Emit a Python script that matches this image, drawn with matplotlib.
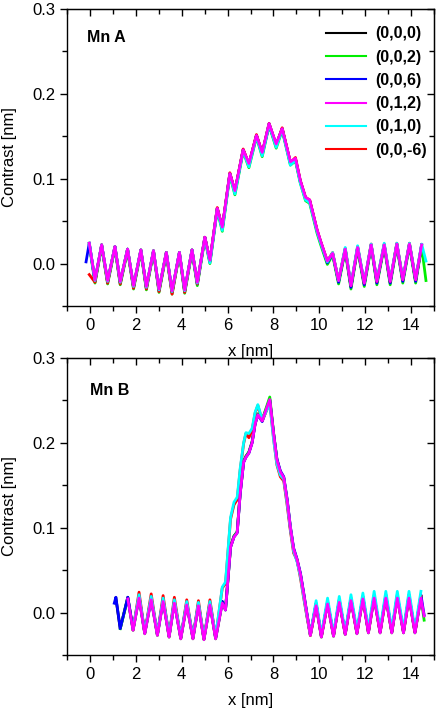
import numpy as np
import matplotlib
matplotlib.use('Agg')
import matplotlib.pyplot as plt
from matplotlib.ticker import MultipleLocator, FormatStrFormatter

plt.rcParams['font.family'] = ['Liberation Sans', 'DejaVu Sans']

nan = np.nan

labels = ['(0,0,0)', '(0,0,2)', '(0,0,6)', '(0,1,2)', '(0,1,0)', '(0,0,-6)']
colors = ['#000000', '#00ee00', '#0000ff', '#ff00ff', '#00ffff', '#ff0000']

# ---- Mn A ----
xa = [-0.17, -0.03, 0.22, 0.51, 0.77, 1.09, 1.32, 1.64, 1.90, 2.22,
      2.46, 2.77, 3.01, 3.33, 3.58, 3.90, 4.13, 4.45, 4.68, 5.01,
      5.23, 5.55, 5.77, 6.10, 6.32, 6.68, 6.93, 7.26, 7.51, 7.81,
      8.12, 8.38, 8.74, 8.96, 9.17, 9.40, 9.58, 9.90, 10.05, 10.35,
      10.58, 10.84, 11.13, 11.38, 11.67, 11.96, 12.26, 12.51, 12.83, 13.09,
      13.38, 13.64, 13.93, 14.20, 14.46, 14.65]

a_000 = [nan, 0.024, -0.020, 0.022, -0.021, 0.020, -0.022, 0.017, -0.027, 0.016,
         -0.028, 0.015, -0.031, 0.013, -0.033, 0.013, -0.032, 0.016, -0.023, 0.031,
         0.003, 0.065, 0.042, 0.106, 0.085, 0.134, 0.117, 0.151, 0.130, 0.165,
         0.140, 0.159, 0.119, 0.123, 0.097, 0.077, 0.074, 0.039, 0.026, 0.002,
         0.012, -0.021, 0.017, -0.027, 0.019, -0.024, 0.022, -0.022, 0.022, -0.022,
         0.023, -0.020, 0.023, -0.020, 0.021, nan]
a_002 = [nan, 0.022, -0.023, 0.020, -0.024, 0.018, -0.025, 0.015, -0.030, 0.014,
         -0.031, 0.013, -0.034, 0.011, -0.036, 0.011, -0.035, 0.014, -0.026, 0.029,
         0.000, 0.063, 0.038, 0.104, 0.081, 0.132, 0.113, 0.149, 0.126, 0.163,
         0.136, 0.157, 0.116, 0.121, 0.095, 0.074, 0.071, 0.036, 0.023, -0.001,
         0.010, -0.024, 0.015, -0.030, 0.017, -0.027, 0.020, -0.025, 0.020, -0.025,
         0.021, -0.023, 0.021, -0.023, 0.020, -0.020]
a_006 = [0.002, 0.024, -0.021, 0.022, -0.022, 0.020, -0.023, 0.017, -0.028, 0.016,
         -0.029, 0.015, -0.032, 0.013, -0.034, 0.013, -0.033, 0.016, -0.024, 0.031,
         0.002, 0.065, 0.041, 0.106, 0.084, 0.134, 0.116, 0.151, 0.129, 0.163,
         0.139, 0.159, 0.118, 0.123, 0.097, 0.077, 0.074, 0.039, 0.026, 0.001,
         0.012, -0.022, 0.017, -0.028, 0.019, -0.025, 0.022, -0.023, 0.022, -0.023,
         0.023, -0.021, 0.023, -0.021, 0.022, nan]
a_012 = [nan, 0.024, -0.019, 0.022, -0.020, 0.020, -0.021, 0.017, -0.026, 0.016,
         -0.027, 0.015, -0.030, 0.013, -0.032, 0.013, -0.031, 0.016, -0.022, 0.031,
         0.004, 0.065, 0.043, 0.106, 0.086, 0.134, 0.118, 0.151, 0.131, 0.165,
         0.141, 0.159, 0.120, 0.124, 0.098, 0.078, 0.075, 0.040, 0.027, 0.003,
         0.012, -0.020, 0.017, -0.026, 0.019, -0.023, 0.022, -0.021, 0.022, -0.021,
         0.023, -0.019, 0.023, -0.019, 0.022, nan]
a_010 = [nan, 0.024, -0.020, 0.022, -0.021, 0.020, -0.022, 0.017, -0.027, 0.016,
         -0.028, 0.015, -0.031, 0.013, -0.033, 0.013, -0.032, 0.016, -0.023, 0.030,
         0.001, 0.064, 0.039, 0.105, 0.082, 0.133, 0.114, 0.150, 0.127, 0.164,
         0.137, 0.158, 0.116, 0.122, 0.095, 0.075, 0.072, 0.038, 0.025, 0.002,
         0.013, -0.020, 0.019, -0.025, 0.021, -0.022, 0.023, -0.020, 0.024, -0.020,
         0.024, -0.018, 0.024, -0.018, 0.023, 0.003]
a_00m6 = [nan, -0.013, -0.022, 0.022, -0.023, 0.020, -0.024, 0.017, -0.029, 0.016,
          -0.030, 0.015, -0.033, 0.013, -0.036, 0.013, -0.034, 0.016, -0.024, 0.031,
          0.003, 0.066, 0.042, 0.107, 0.085, 0.135, 0.117, 0.152, 0.130, 0.165,
          0.139, 0.160, 0.119, 0.125, 0.098, 0.078, 0.075, 0.040, 0.027, 0.003,
          0.013, -0.020, 0.018, -0.026, 0.020, -0.023, 0.023, -0.021, 0.023, -0.021,
          0.024, -0.019, 0.024, -0.019, 0.022, nan]

# ---- Mn B ----
xb = [1.06, 1.13, 1.32, 1.65, 1.88, 2.14, 2.39, 2.67, 2.94, 3.19,
      3.45, 3.68, 3.96, 4.22, 4.49, 4.73, 4.97, 5.23, 5.48, 5.77,
      5.91, 6.13, 6.28, 6.42, 6.55, 6.70, 6.80, 6.93, 7.07, 7.20,
      7.32, 7.51, 7.84, 8.01, 8.15, 8.30, 8.45, 8.60, 8.74, 8.88,
      9.03, 9.18, 9.32, 9.46, 9.61, 9.86, 10.09, 10.36, 10.62, 10.87,
      11.13, 11.38, 11.64, 11.90, 12.14, 12.39, 12.65, 12.90, 13.16, 13.40,
      13.67, 13.91, 14.17, 14.43, 14.57]

b_000 = [nan, 0.017, -0.019, 0.018, -0.020, 0.019, -0.024, 0.017, -0.026, 0.015,
         -0.028, 0.013, -0.030, 0.011, -0.030, 0.010, -0.031, 0.011, -0.030, 0.013,
         0.004, 0.078, 0.090, 0.095, 0.141, 0.178, 0.184, 0.189, 0.201, 0.223,
         0.234, 0.227, 0.251, 0.210, 0.180, 0.165, 0.158, 0.131, 0.099, 0.074,
         0.061, 0.044, 0.021, -0.003, -0.026, 0.010, -0.028, 0.012, -0.027, 0.014,
         -0.025, 0.016, -0.024, 0.018, -0.023, 0.019, -0.023, 0.019, -0.023, 0.019,
         -0.023, 0.019, -0.023, 0.019, nan]
b_002 = [nan, nan, -0.019, 0.017, -0.021, 0.018, -0.025, 0.016, -0.027, 0.014,
         -0.029, 0.012, -0.031, 0.010, -0.031, 0.009, -0.032, 0.010, -0.031, 0.012,
         0.003, 0.077, 0.090, 0.095, 0.141, 0.178, 0.184, 0.189, 0.201, 0.223,
         0.234, 0.227, 0.254, 0.211, 0.181, 0.166, 0.159, 0.132, 0.100, 0.075,
         0.062, 0.045, 0.022, -0.002, -0.027, 0.009, -0.029, 0.011, -0.028, 0.013,
         -0.026, 0.015, -0.025, 0.017, -0.024, 0.018, -0.024, 0.018, -0.024, 0.018,
         -0.024, 0.018, -0.024, 0.018, -0.009]
b_006 = [0.011, 0.018, -0.019, 0.018, -0.020, 0.019, -0.024, 0.017, -0.026, 0.015,
         -0.028, 0.013, -0.030, 0.011, -0.030, 0.010, -0.031, 0.011, -0.030, 0.013,
         0.003, 0.077, 0.089, 0.094, 0.140, 0.177, 0.183, 0.188, 0.200, 0.222,
         0.233, 0.225, 0.250, 0.210, 0.181, 0.167, 0.160, 0.133, 0.101, 0.076,
         0.063, 0.046, 0.023, -0.001, -0.026, 0.011, -0.028, 0.013, -0.027, 0.015,
         -0.025, 0.017, -0.024, 0.019, -0.023, 0.020, -0.023, 0.021, -0.023, 0.021,
         -0.023, 0.021, -0.023, 0.021, -0.003]
b_012 = [nan, nan, nan, 0.016, -0.021, 0.017, -0.025, 0.015, -0.027, 0.013,
         -0.029, 0.011, -0.031, 0.009, -0.031, 0.008, -0.032, 0.009, -0.031, 0.011,
         0.003, 0.077, 0.089, 0.094, 0.140, 0.177, 0.183, 0.188, 0.200, 0.222,
         0.233, 0.226, 0.251, 0.210, 0.180, 0.166, 0.159, 0.132, 0.100, 0.075,
         0.062, 0.045, 0.022, -0.002, -0.027, 0.008, -0.029, 0.010, -0.028, 0.012,
         -0.026, 0.014, -0.025, 0.016, -0.024, 0.017, -0.024, 0.017, -0.024, 0.017,
         -0.024, 0.017, -0.024, 0.017, -0.004]
b_010 = [nan, nan, nan, nan, -0.019, 0.021, -0.023, 0.019, -0.025, 0.017,
         -0.027, 0.015, -0.029, 0.013, -0.029, 0.012, -0.030, 0.013, -0.028, 0.030,
         0.036, 0.112, 0.130, 0.136, 0.170, 0.200, 0.212, 0.211, 0.217, 0.236,
         0.245, 0.227, 0.246, 0.203, 0.175, 0.162, 0.157, 0.128, 0.098, 0.072,
         0.060, 0.042, 0.018, -0.004, -0.026, 0.014, -0.026, 0.017, -0.025, 0.019,
         -0.023, 0.021, -0.021, 0.023, -0.020, 0.025, -0.020, 0.025, -0.020, 0.025,
         -0.020, 0.025, -0.020, 0.025, nan]
b_00m6 = [nan, nan, nan, nan, -0.020, 0.024, -0.024, 0.022, -0.026, 0.020,
          -0.028, 0.018, -0.030, 0.015, -0.030, 0.014, -0.031, 0.015, -0.029, 0.029,
          0.034, 0.110, 0.127, 0.133, 0.168, 0.199, 0.211, 0.206, 0.215, 0.235,
          0.244, 0.226, 0.247, 0.204, 0.174, 0.160, 0.155, 0.126, 0.096, 0.070,
          0.062, 0.040, 0.017, -0.005, -0.027, 0.010, -0.028, 0.012, -0.027, 0.014,
          -0.025, 0.016, -0.024, 0.018, -0.023, 0.019, -0.023, 0.019, -0.023, 0.019,
          -0.023, 0.019, -0.023, 0.019, nan]

series_a = [a_000, a_002, a_006, a_012, a_010, a_00m6]
series_b = [b_000, b_002, b_006, b_012, b_010, b_00m6]
draw_order = [0, 1, 2, 5, 4, 3]


def setup_axes(ax):
    ax.set_xlim(-1, 15)
    ax.set_ylim(-0.05, 0.3)
    ax.set_xticks(range(0, 15, 2))
    ax.set_yticks([0.0, 0.1, 0.2, 0.3])
    ax.xaxis.set_minor_locator(MultipleLocator(1))
    ax.yaxis.set_minor_locator(MultipleLocator(0.05))
    ax.yaxis.set_major_formatter(FormatStrFormatter('%.1f'))
    ax.tick_params(which='both', direction='out', labelsize=12, width=1)
    ax.tick_params(which='major', length=5)
    ax.tick_params(which='minor', length=3.5)
    for sp in ax.spines.values():
        sp.set_linewidth(1)
    # mirrored ticks pointing inwards on top and right
    top = ax.secondary_xaxis('top')
    top.set_xticks(range(0, 15, 2))
    top.xaxis.set_minor_locator(MultipleLocator(1))
    top.tick_params(which='both', direction='in', labeltop=False, width=1)
    top.tick_params(which='major', length=5)
    top.tick_params(which='minor', length=3.5)
    right = ax.secondary_yaxis('right')
    right.set_yticks([0.0, 0.1, 0.2, 0.3])
    right.yaxis.set_minor_locator(MultipleLocator(0.05))
    right.tick_params(which='both', direction='in', labelright=False, width=1)
    right.tick_params(which='major', length=5)
    right.tick_params(which='minor', length=3.5)
    ax.set_xlabel('x [nm]', fontsize=12, labelpad=8)
    ax.set_ylabel('Contrast [nm]', fontsize=12, labelpad=11)


fig = plt.figure(figsize=(4.36, 7.08), dpi=100)
ax1 = fig.add_axes([0.1537, 0.5678, 0.8417, 0.4195])
ax2 = fig.add_axes([0.1537, 0.0749, 0.8417, 0.4195])

handles = [None] * 6
for i in draw_order:
    line, = ax1.plot(xa, series_a[i], color=colors[i], lw=2.0, label=labels[i])
    handles[i] = line
    ax2.plot(xb, series_b[i], color=colors[i], lw=2.0)

setup_axes(ax1)
setup_axes(ax2)

ax1.text(0.055, 0.905, 'Mn A', transform=ax1.transAxes, fontsize=11.5,
         fontweight='bold', va='center')
ax2.text(0.063, 0.892, 'Mn B', transform=ax2.transAxes, fontsize=11.5,
         fontweight='bold', va='center')

leg = ax1.legend(handles=handles, loc='upper left', bbox_to_anchor=(0.705, 0.942),
                 frameon=False, borderpad=0, borderaxespad=0, handlelength=2.5,
                 handletextpad=0.6, labelspacing=0.52,
                 prop={'size': 11.5, 'weight': 'bold'})
for h in leg.legend_handles:
    h.set_linewidth(1.5)

fig.savefig('out.png', dpi=100)
